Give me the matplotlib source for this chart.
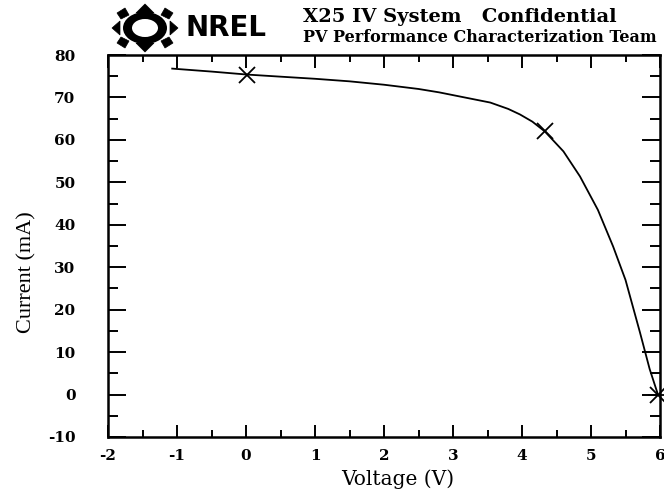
import numpy as np
import matplotlib
matplotlib.use("Agg")
import matplotlib.pyplot as plt
from matplotlib.patches import Polygon, Ellipse

plt.rcParams["axes.unicode_minus"] = False

# I-V curve of the device (voltage in V, current in mA)
voltage = [-1.07, -0.5, 0.01, 0.5, 1.0, 1.5, 2.0, 2.5, 2.8, 3.2, 3.54, 3.8,
           3.97, 4.15, 4.33, 4.6, 4.84, 5.1, 5.32, 5.5, 5.71, 5.85, 5.97]
current = [76.8, 76.1, 75.4, 74.9, 74.4, 73.8, 73.0, 72.0, 71.2, 69.9, 68.8, 67.3,
           66.0, 64.3, 62.0, 57.3, 51.4, 43.5, 34.9, 27.0, 14.6, 6.0, 0.0]

# Key points: short-circuit current, max power point, open-circuit voltage
isc_point = (0.01, 75.4)
mpp_point = (4.33, 62.0)
voc_point = (5.97, 0.0)

x_ticks = [-2, -1, 0, 1, 2, 3, 4, 5, 6]
y_ticks = [-10, 0, 10, 20, 30, 40, 50, 60, 70, 80]

serif = "Liberation Serif"
wide_serif = "DejaVu Serif"

fig = plt.figure(figsize=(6.64, 4.93), dpi=100)
ax = fig.add_axes([0.1627, 0.1136, 0.994 - 0.1627, 0.8884 - 0.1136])

ax.plot(voltage, current, color="black", lw=1.3)
ax.plot(*isc_point, marker="x", color="black", ms=11, mew=1.3)
ax.plot(*mpp_point, marker="x", color="black", ms=12, mew=1.3)
ax.plot(*voc_point, marker="x", color="black", ms=11, mew=1.3, clip_on=False)
ax.plot(*voc_point, marker="_", color="black", ms=14, mew=1.3, clip_on=False)

ax.set_xlim(-2, 6)
ax.set_ylim(-10, 80)
ax.set_xticks(x_ticks)
ax.set_yticks(y_ticks)
ax.set_xticks(np.arange(-1.5, 6, 1.0), minor=True)
ax.set_yticks(np.arange(-5, 80, 10), minor=True)

ax.tick_params(axis="both", which="both", direction="in", top=True, right=True,
               width=1.4, color="black")
ax.tick_params(axis="x", which="major", length=9, pad=9)
ax.tick_params(axis="x", which="minor", length=5)
ax.tick_params(axis="y", which="major", length=13, pad=23.5)
ax.tick_params(axis="y", which="minor", length=7)

for lbl in ax.get_xticklabels() + ax.get_yticklabels():
    lbl.set_fontfamily(wide_serif)
    lbl.set_fontweight("bold")
    lbl.set_fontsize(11)

for s in ax.spines.values():
    s.set_linewidth(1.8)

ax.set_xlabel("Voltage (V)", fontfamily=wide_serif, fontsize=14.5)
ax.xaxis.set_label_coords(0.525, -0.085)
ax.set_ylabel("Current (mA)", fontfamily=serif, fontsize=16)
ax.yaxis.set_label_coords(-0.13, 0.432)

# Header text
fig.text(303 / 664, 1 - 17 / 493, "X25 IV System   Confidential", fontfamily=wide_serif,
         fontsize=14, fontweight="bold", ha="left", va="center")
fig.text(303 / 664, 1 - 37 / 493, "PV Performance Characterization Team",
         fontfamily=wide_serif, fontsize=11.5, fontweight="bold", ha="left", va="center")

# NREL logo: dark ring with arrow-shaped marks around it, plus the letters
W, H = 664.0, 493.0
cx, cy = 145.0, 28.0


def fig_pts(pts):
    return [((cx + x) / W, 1 - (cy + y) / H) for x, y in pts]


def add_poly(pts):
    fig.patches.append(Polygon(fig_pts(pts), closed=True, transform=fig.transFigure,
                               facecolor="black", edgecolor="black", lw=0.5))


fig.patches.append(Ellipse((cx / W, 1 - cy / H), 44 / W, 32 / H,
                           transform=fig.transFigure, facecolor="black"))
fig.patches.append(Ellipse((cx / W, 1 - cy / H), 26 / W, 18 / H,
                           transform=fig.transFigure, facecolor="white"))
# up and down arrows
add_poly([(0, -24), (-9, -15), (-5, -15), (-5, -11), (5, -11), (5, -15), (9, -15)])
add_poly([(0, 24), (-9, 15), (-5, 15), (-5, 11), (5, 11), (5, 15), (9, 15)])
# left and right arrows
add_poly([(-33, 0), (-25, -7), (-25, 7)])
add_poly([(33, 0), (25, -7), (25, 7)])
# diagonal blocks
for sx in (-1, 1):
    for sy in (-1, 1):
        add_poly([(sx * 16, sy * 13), (sx * 24, sy * 9), (sx * 28, sy * 15),
                  (sx * 20, sy * 20)])

fig.text(185 / W, 1 - 28.5 / H, "NREL", fontfamily="DejaVu Sans", fontsize=20,
         fontweight="heavy", ha="left", va="center")

fig.savefig("out.png", dpi=100)
